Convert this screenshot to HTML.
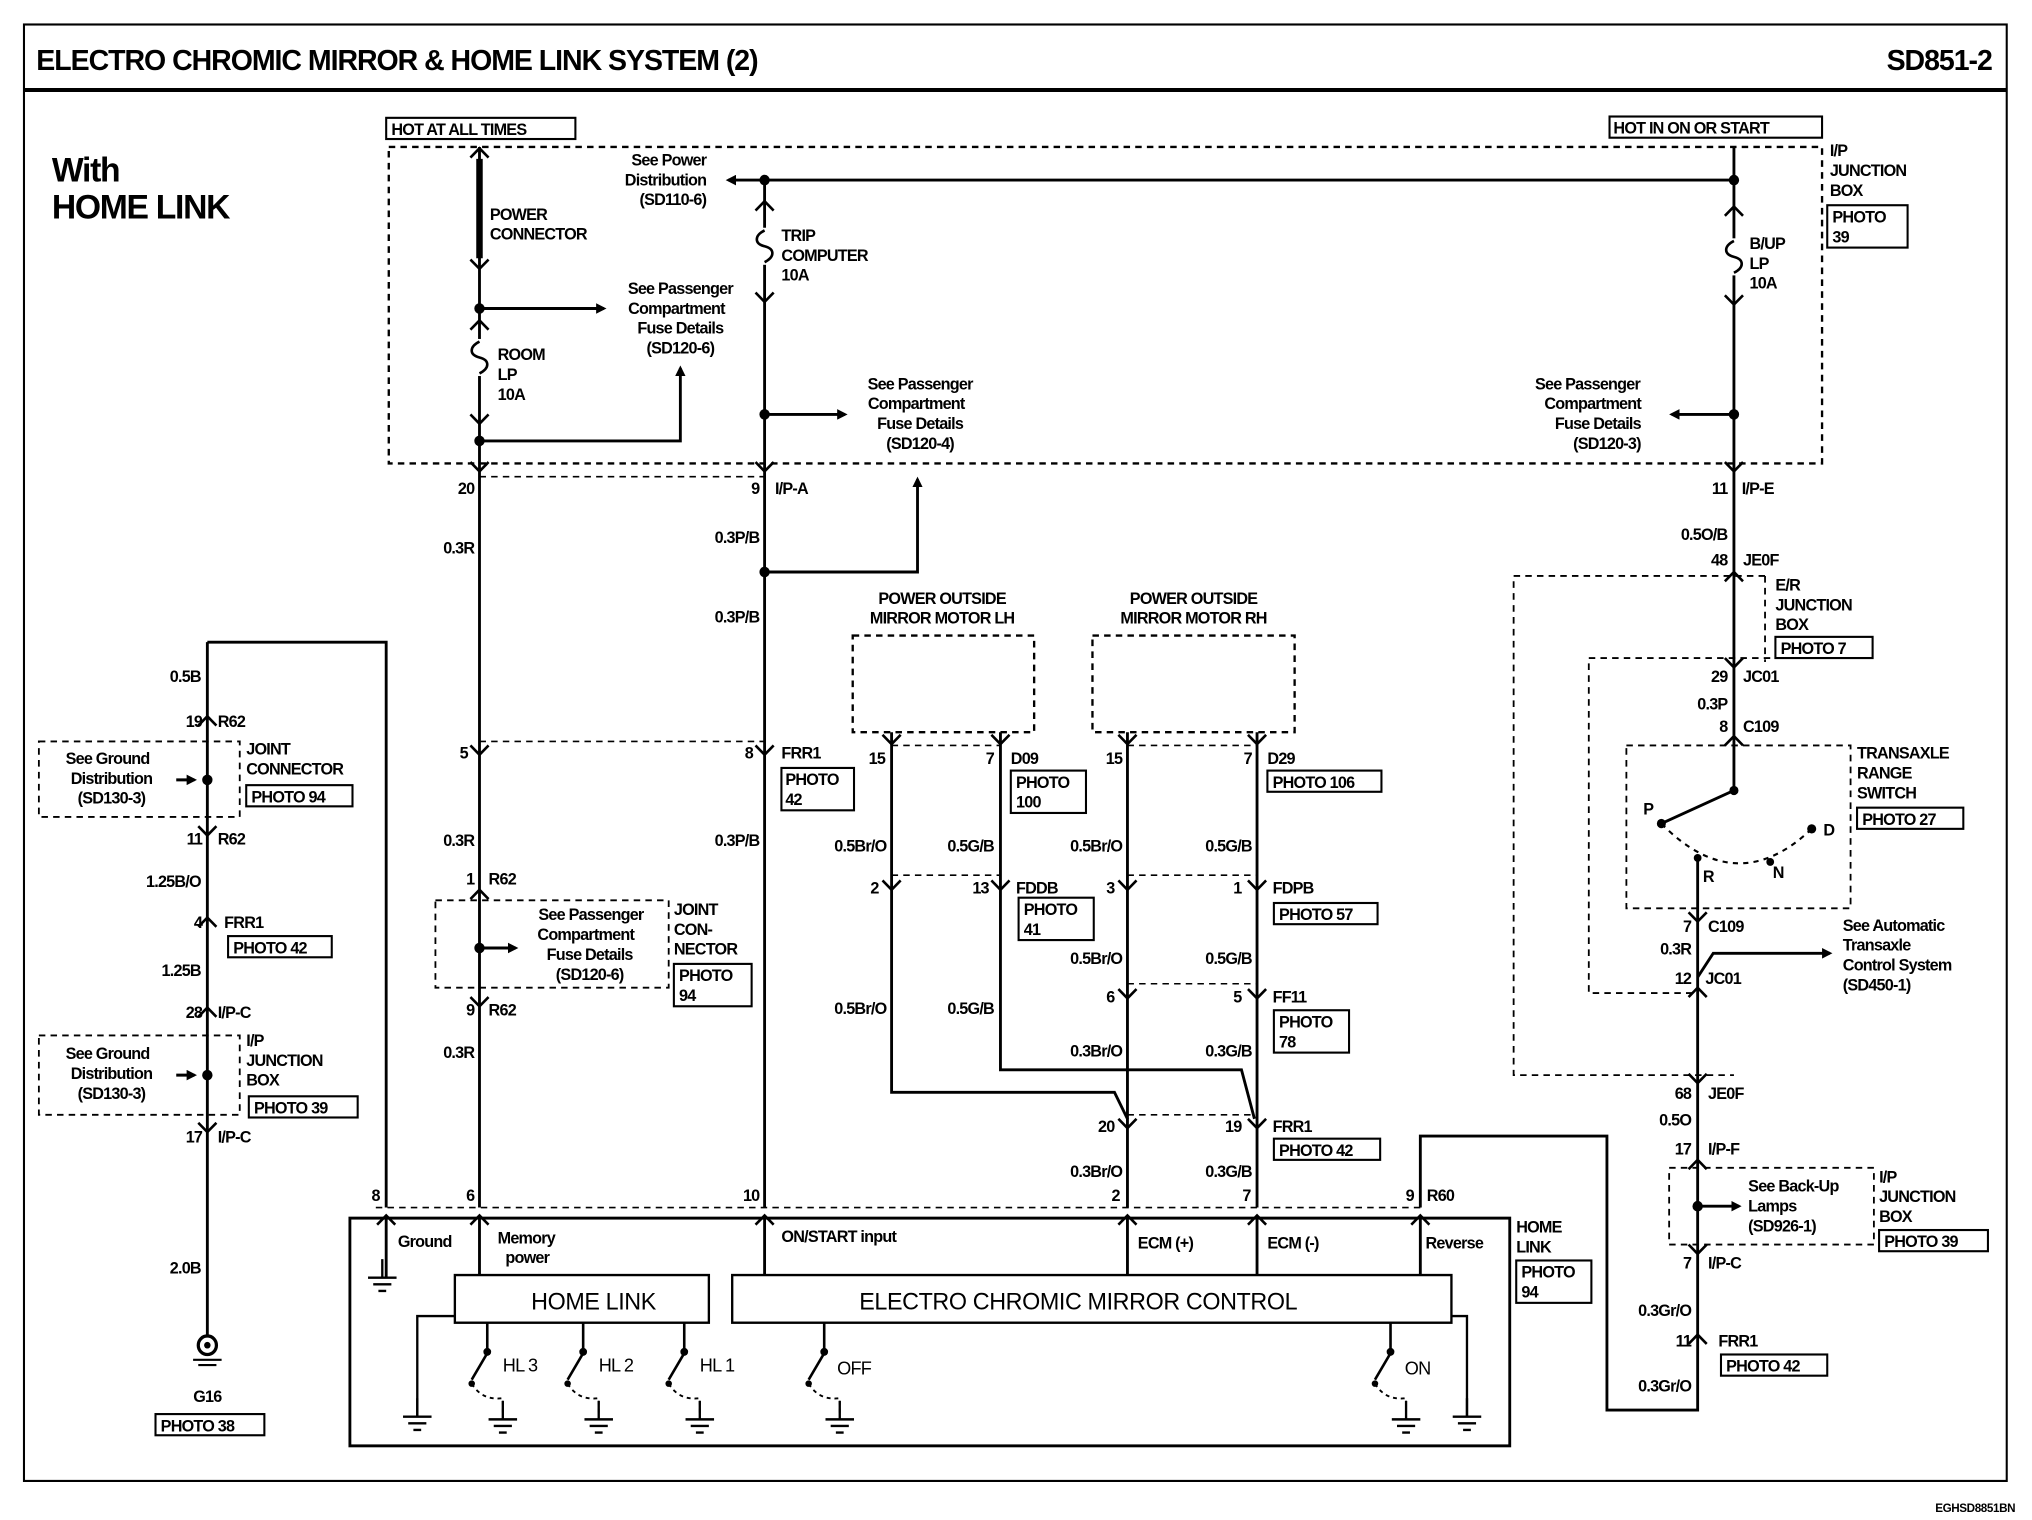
<!DOCTYPE html>
<html><head><meta charset="utf-8"><style>
html,body{margin:0;padding:0;background:#fff}
svg{display:block}
text{font-family:"Liberation Sans",Arial,sans-serif;font-weight:bold;font-size:12.5px;letter-spacing:-0.6px;fill:#000}
.m{text-anchor:middle}.e{text-anchor:end}
.w{stroke:#000;stroke-width:2.2;fill:none}
.d{stroke:#000;stroke-width:1.8;fill:none;stroke-dasharray:5 4}
.t{stroke:#000;stroke-width:1.3;fill:none}
.b{stroke:#000;stroke-width:1.6;fill:#fff}
</style></head><body>
<svg width="2032" height="1520" viewBox="0 0 1568 1148" preserveAspectRatio="none" xmlns="http://www.w3.org/2000/svg">
<defs>
<path id="cv" d="M-7,-7 L0,0 L7,-7" stroke="#000" stroke-width="2" fill="none"/>
<path id="cu" d="M-7,7 L0,0 L7,7" stroke="#000" stroke-width="2" fill="none"/>
<g id="gnd"><path d="M0,-14 V0 M-11,0 H11 M-7,5 H7 M-3,10 H3" stroke="#000" stroke-width="1.8" fill="none"/></g>
<path id="fuse" d="M0,0 c-8,4 -8,10 0,12 c8,2 8,8 0,12" stroke="#000" stroke-width="2" fill="none"/>
<marker id="ar" markerWidth="8" markerHeight="8" refX="6" refY="4" orient="auto" markerUnits="userSpaceOnUse"><path d="M0,0 L8,4 L0,8z" fill="#000"/></marker>
<g id="sw">
<path d="M0,999 V1020 M0,1022 L-12,1042" stroke="#000" stroke-width="2" fill="none"/><circle cx="0" cy="1021" r="3"/><circle cx="-12" cy="1045" r="2.5"/>
<path d="M-12,1045 Q-4,1058 12,1056 V1070" stroke="#000" stroke-width="1.4" fill="none" stroke-dasharray="3 3"/>
</g>
</defs>
<rect x="0" y="0" width="1568" height="1148" fill="#fff"/>
<rect x="18.5" y="18.5" width="1530" height="1100" fill="none" stroke="#000" stroke-width="1.6"/>
<line x1="18" y1="68" x2="1548" y2="68" stroke="#000" stroke-width="3"/>
<text x="28" y="53" style="font-size:22px;letter-spacing:-0.8px">ELECTRO CHROMIC MIRROR &amp; HOME LINK SYSTEM (2)</text>
<text x="1537" y="53" class="e" style="font-size:22px;letter-spacing:-0.8px">SD851-2</text>
<text x="40" y="137" style="font-size:26px;letter-spacing:-1px">With</text>
<text x="40" y="165" style="font-size:26px;letter-spacing:-1px">HOME LINK</text>
<text x="1555" y="1142" class="e" style="font-size:9px;letter-spacing:-0.3px">EGHSD8851BN</text>

<rect x="300" y="111" width="1106" height="239" class="d"/>
<rect x="298" y="89" width="146" height="16" class="b"/><text x="302" y="102">HOT AT ALL TIMES</text>
<rect x="1242" y="88" width="164" height="16" class="b"/><text x="1245" y="101">HOT IN ON OR START</text>

<path class="w" d="M370,111 V912"/>
<path d="M370,120 V195" stroke="#000" stroke-width="5"/>
<use href="#cu" x="370" y="112"/><use href="#cv" x="370" y="203"/>
<text x="378" y="166">POWER</text><text x="378" y="181">CONNECTOR</text>
<circle cx="370" cy="233" r="4"/><path class="w" d="M370,233 H466" marker-end="url(#ar)"/>
<text x="525" y="222" class="m">See Passenger</text><text x="522" y="237" class="m">Compartment</text><text x="525" y="252" class="m">Fuse Details</text><text x="525" y="267" class="m">(SD120-6)</text>
<use href="#cu" x="370" y="242"/>
<rect x="366" y="256" width="8" height="28" fill="#fff"/><use href="#fuse" x="370" y="258"/>
<use href="#cv" x="370" y="320"/>
<text x="384" y="272">ROOM</text><text x="384" y="287">LP</text><text x="384" y="302">10A</text>
<circle cx="370" cy="333" r="4"/><path class="w" d="M370,333 H525 V278" marker-end="url(#ar)"/>
<use href="#cv" x="370" y="356"/>

<path class="w" d="M590,136 V912"/>
<path class="w" d="M1338,111 V560"/>
<path class="w" d="M1338,136 H562" marker-end="url(#ar)"/>
<circle cx="590" cy="136" r="4"/><circle cx="1338" cy="136" r="4"/>
<text x="545" y="125" class="e">See Power</text><text x="545" y="140" class="e">Distribution</text><text x="545" y="155" class="e">(SD110-6)</text>
<use href="#cu" x="590" y="152"/>
<rect x="586" y="172" width="8" height="28" fill="#fff"/><use href="#fuse" x="590" y="174"/>
<use href="#cv" x="590" y="228"/>
<text x="603" y="182">TRIP</text><text x="603" y="197">COMPUTER</text><text x="603" y="212">10A</text>
<circle cx="590" cy="313" r="4"/><path class="w" d="M590,313 H652" marker-end="url(#ar)"/>
<text x="710" y="294" class="m">See Passenger</text><text x="707" y="309" class="m">Compartment</text><text x="710" y="324" class="m">Fuse Details</text><text x="710" y="339" class="m">(SD120-4)</text>
<use href="#cv" x="590" y="356"/>

<use href="#cu" x="1338" y="156"/>
<rect x="1334" y="180" width="8" height="28" fill="#fff"/><use href="#fuse" x="1338" y="182"/>
<use href="#cv" x="1338" y="230"/>
<text x="1350" y="188">B/UP</text><text x="1350" y="203">LP</text><text x="1350" y="218">10A</text>
<circle cx="1338" cy="313" r="4"/><path class="w" d="M1338,313 H1290" marker-end="url(#ar)"/>
<text x="1225" y="294" class="m">See Passenger</text><text x="1229" y="309" class="m">Compartment</text><text x="1233" y="324" class="m">Fuse Details</text><text x="1240" y="339" class="m">(SD120-3)</text>
<use href="#cv" x="1338" y="356"/>
<text x="1412" y="118">I/P</text><text x="1412" y="133">JUNCTION</text><text x="1412" y="148">BOX</text>
<rect x="1410" y="155" width="62" height="32" class="b"/><text x="1414" y="168">PHOTO</text><text x="1414" y="183">39</text>

<path class="d" d="M370,360 H590" style="stroke-width:1.2"/>
<text x="366" y="373" class="e">20</text><text x="586" y="373" class="e">9</text><text x="598" y="373">I/P-A</text>
<text x="1333" y="373" class="e">11</text><text x="1344" y="373">I/P-E</text>
<text x="366" y="418" class="e">0.3R</text>
<text x="586" y="410" class="e">0.3P/B</text>
<circle cx="590" cy="432" r="4"/><path class="w" d="M590,432 H708 V362" marker-end="url(#ar)"/>
<text x="586" y="470" class="e">0.3P/B</text>

<path class="w" d="M160,485 V1010 M160,485 H298 V912"/>
<text x="155" y="515" class="e">0.5B</text>
<use href="#cu" x="160" y="541"/><text x="156" y="549" class="e">19</text><text x="168" y="549">R62</text>
<rect x="30" y="560" width="155" height="57" class="d" style="stroke-width:1.4"/>
<text x="83" y="577" class="m">See Ground</text><text x="86" y="592" class="m">Distribution</text><text x="86" y="607" class="m">(SD130-3)</text>
<circle cx="160" cy="589" r="4"/><path class="w" d="M136,589 H150" marker-end="url(#ar)"/>
<use href="#cv" x="160" y="631"/>
<text x="190" y="570">JOINT</text><text x="190" y="585">CONNECTOR</text>
<rect x="190" y="593" width="82" height="16" class="b"/><text x="194" y="606">PHOTO 94</text>
<text x="156" y="638" class="e">11</text><text x="168" y="638">R62</text>
<text x="155" y="670" class="e">1.25B/O</text>
<use href="#cu" x="160" y="693"/><text x="156" y="701" class="e">4</text><text x="173" y="701">FRR1</text>
<rect x="176" y="707" width="80" height="16" class="b"/><text x="180" y="720">PHOTO 42</text>
<text x="155" y="737" class="e">1.25B</text>
<use href="#cu" x="160" y="761"/><text x="156" y="769" class="e">28</text><text x="168" y="769">I/P-C</text>
<rect x="30" y="782" width="155" height="60" class="d" style="stroke-width:1.4"/>
<text x="83" y="800" class="m">See Ground</text><text x="86" y="815" class="m">Distribution</text><text x="86" y="830" class="m">(SD130-3)</text>
<circle cx="160" cy="812" r="4"/><path class="w" d="M136,812 H150" marker-end="url(#ar)"/>
<text x="190" y="790">I/P</text><text x="190" y="805">JUNCTION</text><text x="190" y="820">BOX</text>
<rect x="192" y="828" width="84" height="16" class="b"/><text x="196" y="841">PHOTO 39</text>
<use href="#cv" x="160" y="855"/><text x="156" y="863" class="e">17</text><text x="168" y="863">I/P-C</text>
<text x="155" y="962" class="e">2.0B</text>
<circle cx="160" cy="1016" r="7" fill="#fff" stroke="#000" stroke-width="2.5"/><circle cx="160" cy="1016" r="2.5"/>
<path d="M149,1027 H171 M153,1031 H167" stroke="#000" stroke-width="1.6"/>
<text x="160" y="1059" class="m">G16</text>
<rect x="120" y="1068" width="84" height="16" class="b"/><text x="124" y="1081">PHOTO 38</text>

<use href="#cv" x="370" y="570"/><text x="361" y="573" class="e">5</text>
<path class="d" d="M370,560 H590" style="stroke-width:1.2"/>
<use href="#cv" x="590" y="570"/><text x="581" y="573" class="e">8</text><text x="603" y="573">FRR1</text>
<rect x="603" y="580" width="56" height="32" class="b"/><text x="606" y="593">PHOTO</text><text x="606" y="608">42</text>
<text x="366" y="639" class="e">0.3R</text><text x="586" y="639" class="e">0.3P/B</text>
<use href="#cu" x="370" y="672"/><text x="366" y="668" class="e">1</text><text x="377" y="668">R62</text>
<rect x="336" y="680" width="180" height="66" class="d" style="stroke-width:1.4"/>
<text x="456" y="695" class="m">See Passenger</text><text x="452" y="710" class="m">Compartment</text><text x="455" y="725" class="m">Fuse Details</text><text x="455" y="740" class="m">(SD120-6)</text>
<circle cx="370" cy="716" r="4"/><path class="w" d="M370,716 H398" marker-end="url(#ar)"/>
<text x="520" y="691">JOINT</text><text x="520" y="706">CON-</text><text x="520" y="721">NECTOR</text>
<rect x="520" y="728" width="60" height="32" class="b"/><text x="524" y="741">PHOTO</text><text x="524" y="756">94</text>
<use href="#cv" x="370" y="760"/><text x="366" y="767" class="e">9</text><text x="377" y="767">R62</text>
<text x="366" y="799" class="e">0.3R</text>

<text x="727" y="456" class="m">POWER OUTSIDE</text><text x="727" y="471" class="m">MIRROR MOTOR LH</text>
<text x="921" y="456" class="m">POWER OUTSIDE</text><text x="921" y="471" class="m">MIRROR MOTOR RH</text>
<rect x="658" y="480" width="140" height="73" class="d"/>
<rect x="843" y="480" width="156" height="73" class="d"/>
<path class="w" d="M688,553 V825 H860 L870,845 V912"/>
<path class="w" d="M772,553 V808 H958 L968,845 M970,553 V912 M870,553 V845"/>
<use href="#cv" x="688" y="562"/><use href="#cv" x="772" y="562"/><use href="#cv" x="870" y="562"/><use href="#cv" x="970" y="562"/>
<path class="d" d="M688,563 H772 M870,563 H970" style="stroke-width:1.2"/>
<text x="683" y="577" class="e">15</text><text x="767" y="577" class="e">7</text><text x="780" y="577">D09</text>
<rect x="780" y="582" width="58" height="32" class="b"/><text x="784" y="595">PHOTO</text><text x="784" y="610">100</text>
<text x="866" y="577" class="e">15</text><text x="966" y="577" class="e">7</text><text x="978" y="577">D29</text>
<rect x="978" y="582" width="88" height="16" class="b"/><text x="982" y="595">PHOTO 106</text>
<text x="684" y="643" class="e">0.5Br/O</text><text x="767" y="643" class="e">0.5G/B</text><text x="866" y="643" class="e">0.5Br/O</text><text x="966" y="643" class="e">0.5G/B</text>
<path class="d" d="M688,661 H772 M870,661 H970" style="stroke-width:1.2"/>
<use href="#cv" x="688" y="672"/><use href="#cv" x="772" y="672"/><use href="#cv" x="870" y="672"/><use href="#cv" x="970" y="672"/>
<text x="678" y="675" class="e">2</text><text x="763" y="675" class="e">13</text><text x="784" y="675">FDDB</text>
<rect x="786" y="678" width="58" height="32" class="b"/><text x="790" y="691">PHOTO</text><text x="790" y="706">41</text>
<text x="860" y="675" class="e">3</text><text x="958" y="675" class="e">1</text><text x="982" y="675">FDPB</text>
<rect x="983" y="682" width="80" height="16" class="b"/><text x="987" y="695">PHOTO 57</text>
<text x="866" y="728" class="e">0.5Br/O</text><text x="966" y="728" class="e">0.5G/B</text>
<path class="d" d="M870,743 H970" style="stroke-width:1.2"/>
<use href="#cv" x="870" y="754"/><use href="#cv" x="970" y="754"/>
<text x="860" y="757" class="e">6</text><text x="958" y="757" class="e">5</text><text x="982" y="757">FF11</text>
<rect x="983" y="763" width="58" height="32" class="b"/><text x="987" y="776">PHOTO</text><text x="987" y="791">78</text>
<text x="684" y="766" class="e">0.5Br/O</text><text x="767" y="766" class="e">0.5G/B</text>
<text x="866" y="798" class="e">0.3Br/O</text><text x="966" y="798" class="e">0.3G/B</text>
<path class="d" d="M870,842 H970" style="stroke-width:1.2"/>
<use href="#cv" x="870" y="852"/><use href="#cv" x="970" y="852"/>
<text x="860" y="855" class="e">20</text><text x="958" y="855" class="e">19</text><text x="982" y="855">FRR1</text>
<rect x="983" y="860" width="82" height="16" class="b"/><text x="987" y="873">PHOTO 42</text>
<text x="866" y="889" class="e">0.3Br/O</text><text x="966" y="889" class="e">0.3G/B</text>

<text x="1333" y="408" class="e">0.5O/B</text>
<use href="#cu" x="1338" y="432"/><text x="1333" y="427" class="e">48</text><text x="1345" y="427">JE0F</text>
<path class="d" d="M1362,435 H1168 V812 H1338 M1362,435 V500" style="stroke-width:1.4"/>
<text x="1370" y="446">E/R</text><text x="1370" y="461">JUNCTION</text><text x="1370" y="476">BOX</text>
<rect x="1370" y="481" width="75" height="16" class="b"/><text x="1374" y="494">PHOTO 7</text>
<use href="#cv" x="1338" y="504"/><text x="1333" y="515" class="e">29</text><text x="1345" y="515">JC01</text>
<path class="d" d="M1366,497 H1226 V750 H1310" style="stroke-width:1.4"/>
<text x="1333" y="536" class="e">0.3P</text>
<use href="#cu" x="1338" y="556"/><text x="1333" y="553" class="e">8</text><text x="1345" y="553">C109</text>
<rect x="1255" y="563" width="173" height="123" class="d" style="stroke-width:1.4"/>
<text x="1433" y="573">TRANSAXLE</text><text x="1433" y="588">RANGE</text><text x="1433" y="603">SWITCH</text>
<rect x="1433" y="610" width="82" height="16" class="b"/><text x="1437" y="623">PHOTO 27</text>
<path class="w" d="M1338,560 V597 L1282,622"/><circle cx="1338" cy="597" r="3.5"/>
<circle cx="1282" cy="622" r="3.5"/><circle cx="1398" cy="626" r="3.5"/><circle cx="1310" cy="648" r="3"/><circle cx="1366" cy="651" r="3"/>
<path d="M1282,622 Q1340,680 1398,626" stroke="#000" stroke-width="1.6" fill="none" stroke-dasharray="4 4"/>
<text x="1268" y="615">P</text><text x="1407" y="631">D</text><text x="1314" y="666">R</text><text x="1368" y="663">N</text>
<path class="w" d="M1310,648 V1065 H1240 V858 H1096 V912"/>
<use href="#cv" x="1310" y="696"/><text x="1305" y="704" class="e">7</text><text x="1318" y="704">C109</text>
<text x="1305" y="721" class="e">0.3R</text>
<path class="w" d="M1310,738 L1322,720 H1412" marker-end="url(#ar)"/>
<text x="1422" y="703">See Automatic</text><text x="1422" y="718">Transaxle</text><text x="1422" y="733">Control System</text><text x="1422" y="748">(SD450-1)</text>
<use href="#cu" x="1310" y="746"/><text x="1305" y="743" class="e">12</text><text x="1316" y="743">JC01</text>
<use href="#cv" x="1310" y="818"/><text x="1305" y="830" class="e">68</text><text x="1318" y="830">JE0F</text>
<text x="1305" y="850" class="e">0.5O</text>
<use href="#cu" x="1310" y="876"/><text x="1305" y="872" class="e">17</text><text x="1318" y="872">I/P-F</text>
<rect x="1288" y="882" width="158" height="58" class="d" style="stroke-width:1.4"/>
<text x="1349" y="900">See Back-Up</text><text x="1349" y="915">Lamps</text><text x="1349" y="930">(SD926-1)</text>
<circle cx="1310" cy="911" r="4"/><path class="w" d="M1310,911 H1342" marker-end="url(#ar)"/>
<text x="1450" y="893">I/P</text><text x="1450" y="908">JUNCTION</text><text x="1450" y="923">BOX</text>
<rect x="1450" y="929" width="84" height="16" class="b"/><text x="1454" y="942">PHOTO 39</text>
<use href="#cv" x="1310" y="947"/><text x="1305" y="958" class="e">7</text><text x="1318" y="958">I/P-C</text>
<text x="1305" y="994" class="e">0.3Gr/O</text>
<use href="#cu" x="1310" y="1008"/><text x="1305" y="1017" class="e">11</text><text x="1326" y="1017">FRR1</text>
<rect x="1328" y="1023" width="82" height="16" class="b"/><text x="1332" y="1036">PHOTO 42</text>
<text x="1305" y="1051" class="e">0.3Gr/O</text>

<path class="d" d="M290,912 H1096" style="stroke-width:1.2"/>
<rect x="270" y="920" width="895" height="172" fill="none" stroke="#000" stroke-width="2.2"/>
<use href="#cu" x="298" y="918"/><use href="#cu" x="370" y="918"/><use href="#cu" x="590" y="918"/><use href="#cu" x="870" y="918"/><use href="#cu" x="970" y="918"/><use href="#cu" x="1096" y="918"/>
<text x="293" y="907" class="e">8</text><text x="366" y="907" class="e">6</text><text x="586" y="907" class="e">10</text><text x="864" y="907" class="e">2</text><text x="965" y="907" class="e">7</text><text x="1091" y="907" class="e">9</text><text x="1101" y="907">R60</text>
<path class="w" d="M298,920 V965 M370,920 V963 M590,920 V963 M870,920 V963 M970,920 V963 M1096,920 V963"/>
<use href="#gnd" x="295" y="965"/>
<text x="307" y="942">Ground</text><text x="384" y="939">Memory</text><text x="390" y="954">power</text>
<text x="603" y="938">ON/START input</text><text x="878" y="943">ECM (+)</text><text x="978" y="943">ECM (-)</text><text x="1100" y="943">Reverse</text>
<text x="1170" y="931">HOME</text><text x="1170" y="946">LINK</text>
<rect x="1170" y="952" width="58" height="32" class="b"/><text x="1174" y="965">PHOTO</text><text x="1174" y="980">94</text>
<rect x="351" y="963" width="196" height="36" fill="#fff" stroke="#000" stroke-width="1.8"/>
<rect x="565" y="963" width="555" height="36" fill="#fff" stroke="#000" stroke-width="1.8"/>
<text x="458" y="989" class="m" style="font-size:18px;font-weight:normal;letter-spacing:-0.3px">HOME  LINK</text>
<text x="832" y="989" class="m" style="font-size:18px;font-weight:normal;letter-spacing:-0.3px">ELECTRO CHROMIC MIRROR CONTROL</text>
<path class="t" d="M351,994 H322 V1070 M1120,994 H1132 V1070" style="stroke-width:1.8"/>
<use href="#gnd" x="322" y="1070"/><use href="#gnd" x="1132" y="1070"/>
<use href="#sw" x="376"/><use href="#sw" x="450"/><use href="#sw" x="528"/><use href="#sw" x="636"/><use href="#sw" x="1073"/>
<use href="#gnd" x="388" y="1072"/><use href="#gnd" x="462" y="1072"/><use href="#gnd" x="540" y="1072"/><use href="#gnd" x="648" y="1072"/><use href="#gnd" x="1085" y="1072"/>
<text x="388" y="1036" style="font-size:14px;font-weight:normal">HL 3</text>
<text x="462" y="1036" style="font-size:14px;font-weight:normal">HL 2</text>
<text x="540" y="1036" style="font-size:14px;font-weight:normal">HL 1</text>
<text x="646" y="1038" style="font-size:14px;font-weight:normal">OFF</text>
<text x="1084" y="1038" style="font-size:14px;font-weight:normal">ON</text>
</svg>
</body></html>
